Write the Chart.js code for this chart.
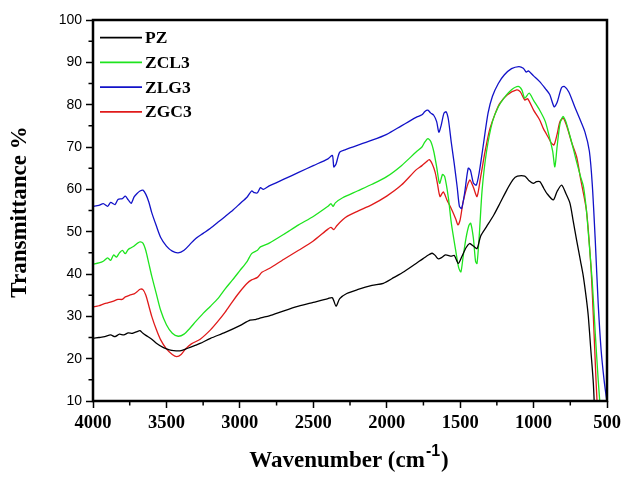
<!DOCTYPE html>
<html>
<head>
<meta charset="utf-8">
<title>FTIR spectra</title>
<script src="https://cdn.jsdelivr.net/npm/chart.js@4.4.1/dist/chart.umd.min.js"></script>
<style>
  html, body { margin: 0; padding: 0; background: #fff; }
  #wrap { width: 624px; height: 478px; position: relative; }
</style>
</head>
<body>
<div id="wrap"><canvas id="ftirChart"></canvas></div>
<script>
// axis ticks
const xTickValues = [4000, 3500, 3000, 2500, 2000, 1500, 1000, 500];
const xMinorTicks = [3750, 3250, 2750, 2250, 1750, 1250, 750];
const yTickValues = [10, 20, 30, 40, 50, 60, 70, 80, 90, 100];
const yMinorTicks = [15, 25, 35, 45, 55, 65, 75, 85, 95];

const seriesNames = ['PZ', 'ZCL3', 'ZLG3', 'ZGC3'];
const seriesColors = ['#000000', '#1ee41e', '#1212c8', '#e01a1a'];

// PZ
const pzWave = [4000, 3960, 3920, 3880, 3850, 3820, 3790, 3760, 3730, 3700, 3680, 3660, 3640, 3600, 3566,
  3520, 3480, 3450, 3400, 3360, 3300, 3271, 3200, 3100, 3000, 2931, 2900, 2880, 2850, 2800, 2700, 2600,
  2500, 2400, 2370, 2345, 2320, 2272, 2200, 2100, 2023, 1950, 1880, 1800, 1750, 1710, 1690, 1670, 1650,
  1630, 1600, 1560, 1540, 1513, 1490, 1460, 1435, 1410, 1385, 1360, 1320, 1270, 1229, 1180, 1140, 1110,
  1060, 1030, 1002, 980, 956, 930, 911, 866, 840, 809, 780, 752, 730, 707, 680, 661, 640, 627, 610, 593, 585];
const pzT = [24.8, 25.0, 25.2, 25.6, 25.2, 25.8, 25.6, 26.1, 26.0, 26.4, 26.6, 26.0, 25.5, 24.6, 23.6,
  22.6, 22.1, 21.9, 21.9, 22.4, 23.2, 23.6, 24.8, 26.2, 27.8, 29.1, 29.2, 29.4, 29.7, 30.1, 31.3, 32.4,
  33.3, 34.2, 34.4, 32.4, 34.2, 35.4, 36.3, 37.3, 37.8, 39.2, 40.6, 42.5, 43.7, 44.6, 44.9, 44.4, 43.6,
  43.8, 44.5, 44.2, 44.4, 42.5, 44.0, 46.2, 47.2, 46.6, 46.0, 49.0, 51.2, 54.0, 56.7, 60.0, 62.3, 63.1,
  63.1, 62.0, 61.4, 61.8, 61.8, 60.2, 59.1, 57.5, 59.5, 61.0, 59.0, 56.7, 52.5, 48.0, 43.0, 39.4, 34.0, 29.9, 22.0, 14.2, 8.0];

// ZCL3
const zclWave = [4000, 3960, 3930, 3900, 3880, 3860, 3840, 3820, 3800, 3780, 3760, 3740, 3720, 3700, 3680,
  3660, 3640, 3620, 3600, 3570, 3540, 3500, 3460, 3420, 3380, 3340, 3300, 3250, 3200, 3150, 3100, 3050,
  3000, 2950, 2920, 2880, 2860, 2800, 2700, 2600, 2500, 2400, 2380, 2365, 2350, 2300, 2200, 2100, 2000,
  1900, 1800, 1760, 1740, 1720, 1700, 1680, 1660, 1640, 1620, 1605, 1580, 1560, 1530, 1510, 1495, 1480,
  1460, 1440, 1428, 1410, 1395, 1385, 1370, 1350, 1320, 1280, 1240, 1200, 1150, 1105, 1080, 1060, 1030,
  1000, 960, 920, 890, 870, 855, 840, 820, 800, 780, 740, 710, 680, 660, 640, 625, 600, 580, 560, 545];
const zclT = [42.3, 42.6, 43.0, 43.8, 43.2, 44.5, 44.0, 45.0, 45.6, 44.8, 45.8, 46.2, 46.6, 47.2, 47.6,
  47.3, 45.5, 42.5, 39.5, 35.5, 31.5, 28.0, 26.0, 25.3, 25.8, 27.2, 28.8, 30.7, 32.4, 34.2, 36.5, 38.6,
  40.8, 43.0, 44.8, 45.6, 46.4, 47.3, 49.4, 51.6, 53.6, 56.0, 56.6, 56.0, 56.8, 58.0, 59.6, 61.2, 63.0,
  65.6, 68.8, 70.0, 71.2, 72.0, 71.3, 69.0, 65.3, 61.4, 63.5, 63.0, 58.0, 52.0, 45.5, 41.5, 40.5, 44.0,
  48.5, 51.5, 52.0, 48.5, 43.0, 42.5, 49.0, 60.0, 69.0, 76.0, 79.5, 81.6, 83.5, 84.3, 83.5, 81.5, 82.7,
  81.0, 78.8, 76.0, 72.0, 69.0, 65.3, 70.0, 75.5, 77.2, 76.0, 71.0, 66.9, 63.0, 60.6, 55.0, 48.8, 38.0, 26.0, 15.0, 8.0];

// ZLG3
const zlgWave = [4000, 3960, 3930, 3900, 3880, 3850, 3830, 3800, 3780, 3760, 3740, 3720, 3700, 3680, 3660,
  3640, 3620, 3600, 3570, 3540, 3500, 3460, 3420, 3380, 3340, 3300, 3250, 3200, 3150, 3100, 3050, 3000,
  2950, 2920, 2900, 2880, 2860, 2840, 2800, 2700, 2600, 2500, 2400, 2370, 2360, 2345, 2320, 2280, 2200,
  2100, 2000, 1900, 1850, 1800, 1760, 1740, 1720, 1700, 1680, 1660, 1645, 1630, 1610, 1595, 1580, 1560,
  1540, 1520, 1505, 1490, 1470, 1445, 1430, 1410, 1390, 1370, 1340, 1310, 1280, 1240, 1200, 1150, 1100,
  1070, 1050, 1035, 1000, 960, 920, 890, 860, 840, 810, 790, 760, 720, 690, 650, 620, 600, 580, 560, 540, 520, 505, 500];
const zlgT = [56.0, 56.2, 56.6, 56.0, 56.9, 56.4, 57.6, 57.8, 58.4, 57.5, 56.7, 58.2, 59.0, 59.6, 59.8,
  58.8, 57.0, 54.5, 51.5, 48.7, 46.6, 45.4, 45.0, 45.6, 47.0, 48.4, 49.6, 50.8, 52.2, 53.6, 55.0, 56.6,
  58.2, 59.6, 59.2, 59.2, 60.4, 60.0, 60.8, 62.4, 64.0, 65.6, 67.2, 68.0, 65.3, 66.0, 68.8, 69.4, 70.4,
  71.6, 73.0, 75.0, 76.0, 77.0, 77.6, 78.4, 78.7, 78.0, 77.5, 76.0, 73.5, 75.0, 78.0, 78.3, 76.5, 71.0,
  66.0, 60.5, 56.0, 55.5, 59.0, 65.0, 64.5, 61.5, 61.0, 64.0, 71.0, 78.0, 82.0, 85.0, 87.0, 88.5, 89.0,
  88.6, 87.7, 88.0, 86.8, 85.5, 83.8, 82.4, 79.5, 80.5, 84.0, 84.3, 83.0, 79.5, 77.0, 73.5, 69.0, 61.0, 48.0, 33.0, 22.0, 15.0, 11.0, 10.0];

// ZGC3
const zgcWave = [4000, 3960, 3930, 3900, 3860, 3830, 3800, 3780, 3750, 3720, 3700, 3680, 3660, 3640, 3620,
  3600, 3570, 3540, 3500, 3460, 3430, 3400, 3370, 3330, 3270, 3200, 3150, 3100, 3050, 3000, 2950, 2920,
  2880, 2850, 2800, 2700, 2600, 2500, 2400, 2380, 2360, 2340, 2300, 2270, 2200, 2100, 2000, 1900, 1800,
  1760, 1730, 1710, 1690, 1670, 1655, 1637, 1615, 1590, 1560, 1530, 1515, 1500, 1480, 1450, 1433, 1410,
  1385, 1360, 1330, 1300, 1260, 1230, 1180, 1115, 1090, 1060, 1040, 1000, 960, 934, 900, 880, 861, 840,
  820, 797, 770, 740, 707, 680, 640, 610, 593, 575, 565];
const zgcT = [32.2, 32.5, 32.9, 33.2, 33.6, 34.0, 34.0, 34.6, 35.0, 35.3, 35.8, 36.4, 36.3, 35.0, 32.5,
  30.0, 27.0, 24.5, 22.3, 21.0, 20.5, 21.0, 22.3, 23.5, 24.6, 26.8, 28.8, 31.0, 33.5, 35.8, 37.8, 38.6,
  39.2, 40.4, 41.3, 43.5, 45.6, 47.8, 50.6, 51.0, 50.5, 51.4, 52.8, 53.6, 54.8, 56.4, 58.4, 61.0, 64.6,
  65.6, 66.5, 67.0, 66.0, 64.0, 61.4, 58.3, 59.4, 57.5, 55.4, 53.0, 51.6, 52.8, 57.0, 61.0, 62.2, 60.5,
  58.3, 63.0, 69.0, 74.0, 78.0, 80.3, 82.3, 83.5, 83.0, 81.1, 81.4, 78.7, 76.5, 74.4, 72.3, 71.0, 70.5, 73.0,
  76.0, 76.8, 74.5, 71.0, 67.7, 62.5, 55.0, 42.0, 30.0, 15.0, 8.0];

const waves = [pzWave, zclWave, zlgWave, zgcWave];
const trans = [pzT, zclT, zlgT, zgcT];

const datasets = seriesNames.map((name, i) => ({
  label: name,
  data: waves[i].map((w, k) => ({ x: w, y: trans[i][k] })),
  borderColor: seriesColors[i],
  borderWidth: 1.3,
  pointRadius: 0,
  tension: 0.25,
  fill: false
}));

// frame, minor ticks, legend and axis titles
const framePlugin = {
  id: 'framePlugin',
  afterDraw(chart) {
    const { ctx, chartArea: a } = chart;
    const xs = chart.scales.x, ys = chart.scales.y;
    ctx.save();
    ctx.strokeStyle = '#000';
    ctx.lineWidth = 1.5;
    ctx.beginPath();
    xMinorTicks.forEach(v => {
      const px = xs.getPixelForValue(v);
      ctx.moveTo(px, a.bottom);
      ctx.lineTo(px, a.bottom + 4.5);
    });
    yMinorTicks.forEach(v => {
      const py = ys.getPixelForValue(v);
      ctx.moveTo(a.left, py);
      ctx.lineTo(a.left - 4.5, py);
    });
    ctx.stroke();

    ctx.lineWidth = 2.5;
    ctx.strokeRect(a.left, a.top, a.right - a.left, a.bottom - a.top);

    // legend
    ctx.font = 'bold 17.5px "Liberation Serif"';
    ctx.textBaseline = 'middle';
    ctx.textAlign = 'left';
    chart.data.datasets.forEach((ds, i) => {
      const yy = 37.7 + i * 24.7;
      ctx.strokeStyle = ds.borderColor;
      ctx.lineWidth = 1.8;
      ctx.beginPath();
      ctx.moveTo(100, yy);
      ctx.lineTo(142, yy);
      ctx.stroke();
      ctx.fillStyle = '#000';
      ctx.fillText(ds.label, 145, yy + 1);
    });

    // y title
    ctx.fillStyle = '#000';
    ctx.font = 'bold 23px "Liberation Serif"';
    ctx.save();
    ctx.translate(20, 212);
    ctx.rotate(-Math.PI / 2);
    ctx.textAlign = 'center';
    ctx.textBaseline = 'middle';
    ctx.fillText('Transmittance %', 0, 0);
    ctx.restore();

    // x title with superscript
    const main = 'Wavenumber (cm';
    const sup = '-1';
    const close = ')';
    ctx.textBaseline = 'alphabetic';
    ctx.textAlign = 'left';
    ctx.font = 'bold 23px "Liberation Serif"';
    const wMain = ctx.measureText(main).width;
    const wClose = ctx.measureText(close).width;
    ctx.font = 'bold 16px "Liberation Sans"';
    const wSup = ctx.measureText(sup).width;
    let x0 = 349 - (wMain + wSup + wClose + 2) / 2;
    const base = 467;
    ctx.font = 'bold 23px "Liberation Serif"';
    ctx.fillText(main, x0, base);
    x0 += wMain + 1;
    ctx.font = 'bold 16px "Liberation Sans"';
    ctx.fillText(sup, x0, base - 11);
    x0 += wSup + 1;
    ctx.font = 'bold 23px "Liberation Serif"';
    ctx.fillText(close, x0, base);
    ctx.restore();
  }
};

new Chart(document.getElementById('ftirChart'), {
  type: 'line',
  data: { datasets },
  options: {
    responsive: true,
    maintainAspectRatio: false,
    animation: false,
    layout: { padding: { top: 20, right: 17, bottom: 0, left: 0 } },
    plugins: { legend: { display: false }, tooltip: { enabled: false } },
    scales: {
      x: {
        type: 'linear',
        reverse: true,
        min: 500,
        max: 4000,
        afterBuildTicks: s => { s.ticks = xTickValues.map(v => ({ value: v })); },
        afterFit: s => { s.height = 77; s.paddingLeft = 0; s.paddingRight = 0; },
        ticks: {
          color: '#000',
          padding: 4,
          maxRotation: 0,
          autoSkip: false,
          callback: v => String(v),
          font: { family: '"Liberation Serif"', size: 18.5, weight: 'bold' }
        },
        grid: { drawOnChartArea: false, drawTicks: true, tickLength: 7, tickWidth: 1.5, tickColor: '#000' },
        border: { display: false }
      },
      y: {
        min: 10,
        max: 100,
        afterBuildTicks: s => { s.ticks = yTickValues.map(v => ({ value: v })); },
        afterFit: s => { s.width = 93; s.paddingTop = 0; s.paddingBottom = 0; },
        ticks: {
          color: '#000',
          padding: 4,
          autoSkip: false,
          callback: v => String(v),
          font: { family: '"Liberation Sans"', size: 14 }
        },
        grid: { drawOnChartArea: false, drawTicks: true, tickLength: 7, tickWidth: 1.5, tickColor: '#000' },
        border: { display: false }
      }
    }
  },
  plugins: [framePlugin]
});
</script>
</body>
</html>
